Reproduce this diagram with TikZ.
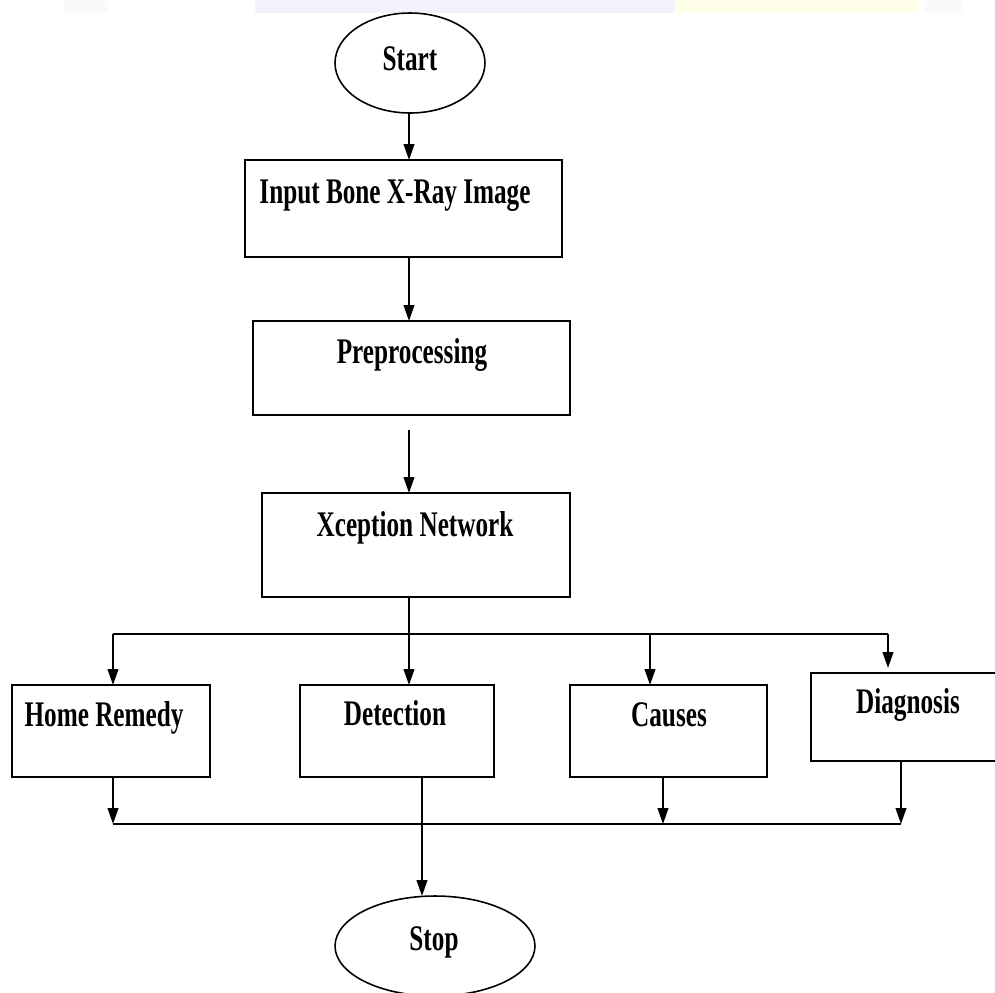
\documentclass[tikz,border=0pt]{standalone}
\usepackage{fontspec}
\setmainfont{Liberation Serif}
\newfontfamily\condfont[FakeStretch=0.7]{Liberation Serif}
\usetikzlibrary{arrows.meta,shapes.geometric}
\begin{document}
\begin{tikzpicture}[x=0.02cm,y=-0.02cm,
  box/.style={draw=black,line width=1.05pt,rectangle,inner sep=0pt,outer sep=0pt},
  oval/.style={draw=black,line width=0.9pt,ellipse,inner sep=0pt,outer sep=0pt},
  lbl/.style={inner sep=0pt,anchor=base,font=\condfont\bfseries\fontsize{20.5}{22}\selectfont},
  wire/.style={draw=black,line width=1.05pt},
  arr/.style={wire,-{Triangle[length=9pt,width=6pt]}}]
\useasboundingbox (0,0) rectangle (995,992);
% faint watermark band at top
\fill[blue!5] (255,0) rectangle (675,13);
\fill[yellow!9] (675,0) rectangle (917,13);
\fill[black!2] (64,0) rectangle (108,13);
\fill[black!2] (924,0) rectangle (962,13);
% shapes
\node[oval,minimum width=3cm,minimum height=2cm] (start) at (410,63) {};
\node[box,minimum width=6.34cm,minimum height=1.94cm] (input) at (403.5,208.5) {};
\node[box,minimum width=6.34cm,minimum height=1.88cm] (pre) at (411.5,368) {};
\node[box,minimum width=6.16cm,minimum height=2.08cm] (xcep) at (416,545) {};
\node[box,minimum width=3.96cm,minimum height=1.84cm] (home) at (111,731) {};
\node[box,minimum width=3.88cm,minimum height=1.84cm] (det) at (397,731) {};
\node[box,minimum width=3.94cm,minimum height=1.84cm] (cause) at (668.5,731) {};
\node[box,minimum width=3.78cm,minimum height=1.76cm] (diag) at (905.5,717) {};
\node[oval,minimum width=4cm,minimum height=2cm] (stop) at (435,946) {};
% labels
\node[lbl] (tstart) at (410,70) {Start};
\node[lbl] (tinput) at (395,203) {Input Bone X-Ray Image};
\node[lbl] (tpre) at (412,363) {Preprocessing};
\node[lbl] (txcep) at (415,536) {Xception Network};
\node[lbl] (thome) at (104,726) {Home Remedy};
\node[lbl] (tdet) at (395,725) {Detection};
\node[lbl] (tcause) at (669,726) {Causes};
\node[lbl] (tdiag) at (908,713) {Diagnosis};
\node[lbl] (tstop) at (434,950) {Stop};
% junction coordinates
\coordinate (s1) at (409,113);
\coordinate (s2) at (409,257);
\coordinate (s3) at (409,430);
\coordinate (s4) at (409,597);
\coordinate (b1) at (113,634);
\coordinate (b3) at (650,634);
\coordinate (b4) at (888,634);
\coordinate (h1) at (113,777);
\coordinate (c1) at (663,777);
\coordinate (d1) at (901,761);
\coordinate (e1) at (422,777);
\coordinate (q1) at (113,824);
\coordinate (q4) at (901,824);
% connectors
\draw[arr] (s1) -- (s1 |- input.north);
\draw[arr] (s2) -- (s2 |- pre.north);
\draw[arr] (s3) -- (s3 |- xcep.north);
\draw[arr] (s4) -- (s4 |- det.north);
\draw[wire] (b1) -- (b4);
\draw[arr] (b1) -- (b1 |- home.north);
\draw[arr] (b3) -- (b3 |- cause.north);
\draw[arr] (b4) -- ([yshift=0.1cm]b4 |- diag.north);
\draw[wire] (q1) -- (q4);
\draw[arr] (h1) -- (q1);
\draw[arr] (c1) -- (c1 |- q1);
\draw[arr] (d1) -- (q4);
\draw[arr] (e1) -- (e1 |- stop.north);
\end{tikzpicture}
\end{document}
